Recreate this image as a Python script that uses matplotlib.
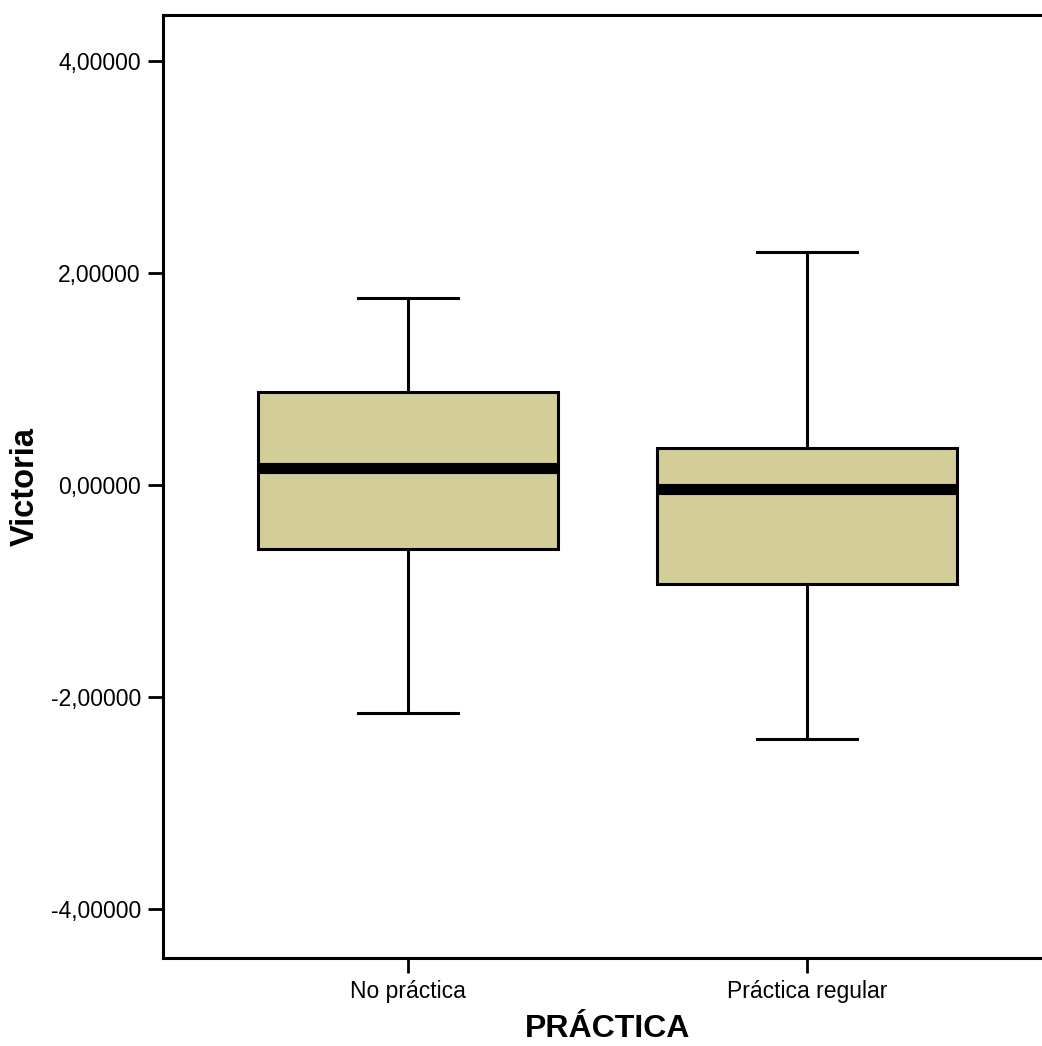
import matplotlib
matplotlib.use("Agg")
import matplotlib.pyplot as plt
from matplotlib.ticker import FuncFormatter

categories = ["No práctica", "Práctica regular"]
whislo = [-2.151, -2.396]
q1 = [-0.604, -0.934]
med = [0.16, -0.038]
q3 = [0.877, 0.349]
whishi = [1.764, 2.198]
yticks = [-4, -2, 0, 2, 4]

plt.rcParams['font.family'] = ['Liberation Sans', 'DejaVu Sans']

fig = plt.figure(figsize=(10.42, 10.46), dpi=100)
ax = fig.add_axes([163/1042, (1046-958)/1046, (1052-163)/1042, (958-15)/1046])

stats = []
for i, c in enumerate(categories):
    stats.append(dict(label=c, whislo=whislo[i], q1=q1[i], med=med[i], q3=q3[i], whishi=whishi[i], fliers=[]))

ax.bxp(stats, positions=[1, 2], widths=0.75, patch_artist=True, showfliers=False,
       boxprops=dict(facecolor='#D3CD98', edgecolor='black', linewidth=2.2),
       medianprops=dict(color='black', linewidth=8, solid_capstyle='butt'),
       whiskerprops=dict(color='black', linewidth=2.2),
       capprops=dict(color='black', linewidth=2.2),
       capwidths=0.25)

ax.set_xlim(1 - 245/399, 2 + 245/399)
ax.set_ylim(-(958-485)/106, (485-15)/106)
ax.set_yticks(yticks)
ax.yaxis.set_major_formatter(FuncFormatter(lambda v, p: f"{v:.5f}".replace('.', ',')))
ax.set_xticks([1, 2])
ax.set_xticklabels(categories)
for s in ['top', 'left', 'bottom']:
    ax.spines[s].set_linewidth(2.2)
ax.spines['right'].set_visible(False)
ax.tick_params(axis='both', length=11, width=2.0, labelsize=16.5, direction='out', pad=5)
ax.set_ylabel("Victoria", fontsize=23.5, fontweight='bold', labelpad=7)
ax.set_xlabel("PRÁCTICA", fontsize=23, fontweight='bold', labelpad=8)

fig.savefig("out.png", dpi=100)
